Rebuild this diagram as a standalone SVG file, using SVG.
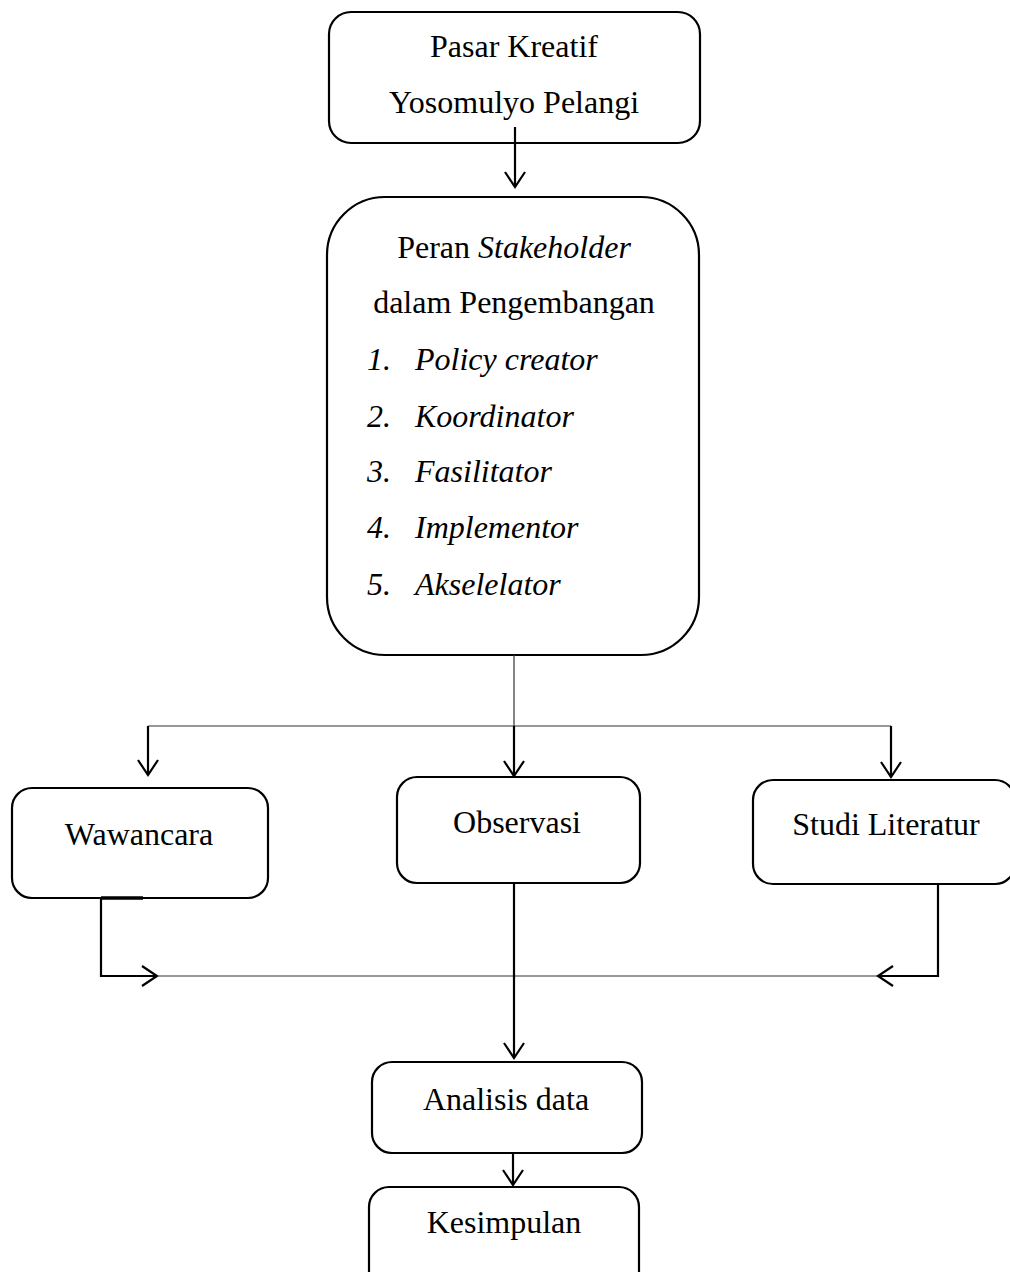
<svg xmlns="http://www.w3.org/2000/svg" width="1010" height="1272" viewBox="0 0 1010 1272">
<style>
.box{fill:#fff;stroke:#000;stroke-width:2.2}
.t{font-family:"Liberation Serif","Times New Roman",serif;font-size:32px;fill:#000}
.c{text-anchor:middle}
.i{font-style:italic}
.thick{fill:none;stroke:#000;stroke-width:2.2}
.thin{fill:none;stroke:#333;stroke-width:1.2}
</style>
<defs>
<marker id="arr" markerUnits="userSpaceOnUse" markerWidth="30" markerHeight="30" refX="0" refY="0" orient="auto" overflow="visible" viewBox="-20 -15 30 30">
<path d="M-15,-10 L0,0 L-15,10" fill="none" stroke="#000" stroke-width="2.2"/>
</marker>
</defs>
<rect width="1010" height="1272" fill="#fff"/>
<g id="n1">
<rect class="box" x="329" y="12" width="371" height="131" rx="22"/>
<text class="t c" x="514" y="57">Pasar Kreatif</text>
<text class="t c" x="514" y="113">Yosomulyo Pelangi</text>
</g>
<g id="n2">
<rect class="box" x="327" y="197" width="372" height="458" rx="58"/>
<text class="t c" x="514" y="258">Peran <tspan class="i">Stakeholder</tspan></text>
<text class="t c" x="514" y="313">dalam Pengembangan</text>
<text class="t i" x="367" y="370">1.</text><text class="t i" x="415" y="370">Policy creator</text>
<text class="t i" x="367" y="427">2.</text><text class="t i" x="415" y="427">Koordinator</text>
<text class="t i" x="367" y="482">3.</text><text class="t i" x="415" y="482">Fasilitator</text>
<text class="t i" x="367" y="538">4.</text><text class="t i" x="415" y="538">Implementor</text>
<text class="t i" x="367" y="595">5.</text><text class="t i" x="415" y="595">Akselelator</text>
</g>
<g id="n3">
<rect class="box" x="12" y="788" width="256" height="110" rx="20"/>
<text class="t c" x="139" y="845">Wawancara</text>
</g>
<g id="n4">
<rect class="box" x="397" y="777" width="243" height="106" rx="20"/>
<text class="t c" x="517" y="833">Observasi</text>
</g>
<g id="n5">
<rect class="box" x="753" y="780" width="262" height="104" rx="20"/>
<text class="t c" x="886" y="835">Studi Literatur</text>
</g>
<g id="n6">
<rect class="box" x="372" y="1062" width="270" height="91" rx="20"/>
<text class="t c" x="506" y="1110">Analisis data</text>
</g>
<g id="n7">
<rect class="box" x="369" y="1187" width="270" height="110" rx="20"/>
<text class="t c" x="504" y="1233">Kesimpulan</text>
</g>
<g id="connectors">
<path class="thick" d="M515,127 V187" marker-end="url(#arr)"/>
<path class="thin" d="M514,655 V726"/>
<path class="thin" d="M148,726 H891"/>
<path class="thick" d="M148,726 V775" marker-end="url(#arr)"/>
<path class="thick" d="M514,726 V776" marker-end="url(#arr)"/>
<path class="thick" d="M891,726 V777" marker-end="url(#arr)"/>
<path class="thick" d="M101,898 H143" style="stroke-width:3.5"/>
<path class="thick" d="M101,898 V976 H157" marker-end="url(#arr)"/>
<path class="thin" d="M157,976 H878"/>
<path class="thick" d="M938,883 V976 H878" marker-end="url(#arr)"/>
<path class="thick" d="M514,883 V1058" marker-end="url(#arr)"/>
<path class="thick" d="M513,1153 V1185" marker-end="url(#arr)"/>
</g>
</svg>
